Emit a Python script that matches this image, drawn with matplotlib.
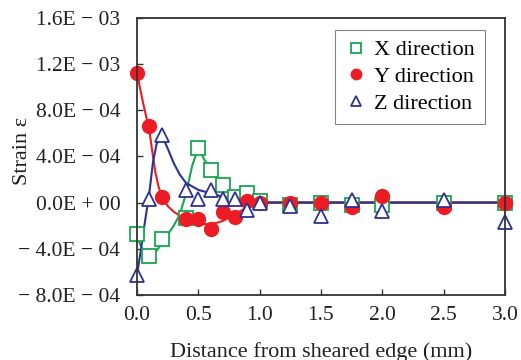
import numpy as np
import matplotlib.pyplot as plt
from matplotlib.ticker import FixedLocator, FixedFormatter

plt.rcParams['font.family'] = ['Liberation Serif', 'DejaVu Serif']

# measured points (strain in units of 1E-04)
dist = [0.0, 0.1, 0.2, 0.4, 0.5, 0.6, 0.7, 0.8, 0.9, 1.0, 1.25, 1.5, 1.75, 2.0, 2.5, 3.0]
x_dir = [-2.7, -4.6, -3.2, -1.3, 4.75, 2.85, 1.55, 0.5, 0.8, 0.1, -0.2, 0.0, -0.25, -0.2, 0.0, 0.0]
y_dir = [11.2, 6.6, 0.5, -1.4, -1.4, -2.25, -0.85, -1.25, 0.15, 0.0, 0.0, 0.0, -0.4, 0.55, -0.4, 0.0]
z_dir = [-6.3, 0.35, 5.85, 1.1, 0.3, 1.05, 0.35, 0.3, -0.65, 0.0, -0.3, -1.15, 0.2, -0.75, 0.2, -1.65]

# fitted trend lines
fit_x_d = [0.0, 0.05, 0.1, 0.15, 0.2, 0.25, 0.3, 0.35, 0.4, 0.45, 0.5, 0.55, 0.6, 0.7, 0.8, 0.9, 1.0, 3.0]
fit_x = [-3.0, -4.2, -4.6, -4.3, -3.6, -2.8, -2.0, -1.0, 0.8, 3.2, 4.75, 3.7, 2.85, 1.55, 0.6, 0.3, 0.0, 0.0]
fit_y_d = [0.0, 0.05, 0.1, 0.125, 0.15, 0.175, 0.2, 0.25, 0.3, 0.35, 0.4, 0.5, 0.6, 0.7, 0.8, 0.9, 1.0, 3.0]
fit_y = [11.2, 8.6, 6.3, 4.4, 2.6, 1.4, 0.6, -0.3, -0.8, -1.15, -1.4, -1.8, -1.9, -1.6, -1.0, -0.4, 0.0, 0.0]
fit_z_d = [0.0, 0.03, 0.06, 0.1, 0.13, 0.16, 0.19, 0.22, 0.25, 0.3, 0.35, 0.4, 0.5, 0.6, 0.7, 0.8, 0.9, 1.0, 3.0]
fit_z = [-6.3, -4.2, -2.0, 0.8, 3.5, 5.1, 5.6, 5.4, 4.7, 3.4, 2.4, 1.7, 1.1, 0.8, 0.5, 0.3, 0.15, 0.0, 0.0]

yticks = [-8, -4, 0, 4, 8, 12, 16]
ytick_labels = ['\u2212 8.0E \u2212 04', '\u2212 4.0E \u2212 04', '0.0E + 00', '4.0E \u2212 04',
                '8.0E \u2212 04', '1.2E \u2212 03', '1.6E \u2212 03']
xticks = [0.0, 0.5, 1.0, 1.5, 2.0, 2.5, 3.0]

green = '#1aa64f'
red = '#ed1c24'
blue = '#2e3192'
text_c = '#231f20'

fig = plt.figure(figsize=(5.21, 3.6), dpi=100)
ax = fig.add_axes([0.263, 0.181, 0.706, 0.769])

ax.plot(fit_x_d, fit_x, color=green, lw=1.5)
ax.plot(fit_y_d, fit_y, color=red, lw=1.5)
ax.plot(fit_z_d, fit_z, color=blue, lw=1.5)

ax.plot(dist, x_dir, 's', ms=9.5, mfc='white', mec=green, mew=1.3, clip_on=False, label='X direction')
ax.plot(dist, y_dir, 'o', ms=10, color=red, clip_on=False, label='Y direction')
ax.plot(dist, z_dir, '^', ms=10.5, mfc='white', mec=blue, mew=1.3, clip_on=False, label='Z direction')

ax.set_xlim(0, 3.0)
ax.set_ylim(-8, 16)
ax.xaxis.set_major_locator(FixedLocator(xticks))
ax.set_xticklabels(['%.1f' % v for v in xticks])
ax.yaxis.set_major_locator(FixedLocator(yticks))
ax.yaxis.set_major_formatter(FixedFormatter(ytick_labels))
ax.tick_params(direction='in', length=4, width=1, labelsize=15.5, colors='#333333', labelcolor=text_c)
ax.tick_params(axis='y', pad=12)
ax.tick_params(axis='x', pad=8)
for s in ax.spines.values():
    s.set_linewidth(1.3)
    s.set_color('#333333')

ax.set_xlabel('Distance from sheared edge (mm)', fontsize=16, labelpad=12, color=text_c)
ax.set_ylabel('Strain \u03b5', fontsize=16, color=text_c)
ax.yaxis.set_label_coords(-0.285, 0.52)

leg = ax.legend(loc='upper right', bbox_to_anchor=(0.946, 0.957), borderaxespad=0, fontsize=16,
                frameon=True, fancybox=False, edgecolor='#666666', handletextpad=0.3, borderpad=0.45,
                labelspacing=0.27, handlelength=1.0, markerscale=0.75)
leg.get_frame().set_linewidth(0.8)

plt.savefig('out.png', dpi=100)
